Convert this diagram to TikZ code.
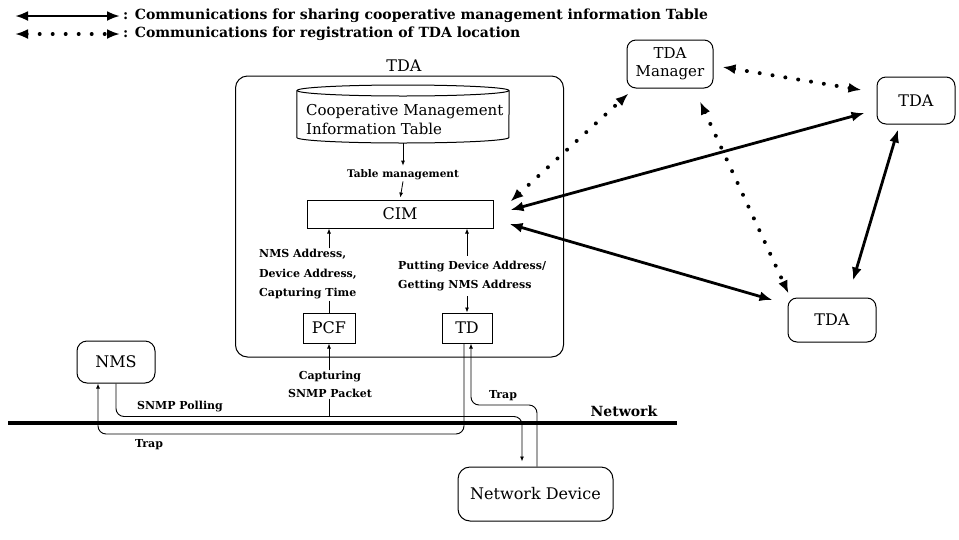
\documentclass[tikz,border=0pt]{standalone}
\usepackage{fontspec}
\setmainfont{DejaVu Serif}
\usetikzlibrary{arrows.meta,calc}
\begin{document}
\begin{tikzpicture}[x=1pt,y=-1pt,
  BigTip/.tip={Latex[length=13pt,width=10pt]},
  SmallTip/.tip={Latex[length=5pt,width=4pt]},
  nodefont/.style={font=\fontsize{16}{18}\selectfont},
  rbox/.style={draw, line width=1pt, rounded corners=9pt, nodefont, inner sep=0pt},
  sbox/.style={draw, line width=1pt, nodefont, inner sep=0pt},
  lbl/.style={font=\bfseries\fontsize{11}{19.5}\selectfont, align=left, inner sep=1pt},
  legtxt/.style={font=\bfseries\fontsize{14}{16}\selectfont, inner sep=0pt},
  comm/.style={line width=2.8pt, {BigTip}-{BigTip}},
  reg/.style={line width=4pt, line cap=round, dash pattern=on 0pt off 13pt, {BigTip}-{BigTip}},
  small/.style={line width=0.8pt, -{SmallTip}},
  wire/.style={line width=0.9pt, rounded corners=8pt},
]
\useasboundingbox (0,0) rectangle (959,539);

% legend
\coordinate (l1a) at (15,16); \coordinate (l1b) at (120,16);
\draw[comm] (l1a) -- (l1b);
\node[legtxt, anchor=west] (leg1) at (123,16) {: Communications for sharing cooperative management information Table};
\coordinate (l2a) at (15,34); \coordinate (l2b) at (120,34);
\draw[reg] (l2a) -- (l2b);
\node[legtxt, anchor=west] (leg2) at (123,34) {: Communications for registration of TDA location};

% big TDA
\node[rbox, rounded corners=12pt, minimum width=328pt, minimum height=281pt] (tdabox) at (399.5,216.5) {};
\node[nodefont] (tdalbl) at (404,66) {TDA};

% cylinder
\node[minimum width=212pt, minimum height=58pt, inner sep=0pt] (cyl) at (403,114) {};
\draw[line width=1pt] (403,90.5) ellipse [x radius=106, y radius=5.5];
\draw[line width=1pt] (cyl.west |- 0,90.5) -- (cyl.west |- 0,137.5) arc[start angle=180, end angle=0, x radius=106, y radius=5.5] -- (cyl.east |- 0,90.5);
\node[font=\fontsize{15}{19}\selectfont, align=left, anchor=west, inner sep=0pt] (cmit) at (306,120) {Cooperative Management\\Information Table};

\node[lbl, font=\bfseries\fontsize{10.5}{12}\selectfont] (tm) at (403,175) {Table management};
\node[sbox, minimum width=186pt, minimum height=28pt] (cim) at (400,214) {CIM};
\draw[small, shorten >=3pt] (cyl.south) -- (tm.north);
\draw[small, shorten >=2pt] (tm.south) -- (cim.north);

\node[sbox, minimum width=52pt, minimum height=30pt] (pcf) at (329,328) {PCF};
\node[sbox, minimum width=50pt, minimum height=30pt] (td) at (467,328) {TD};

\node[lbl, anchor=west] (lblA) at (258,274.5) {NMS Address,\\Device Address,\\Capturing Time};
\node[lbl, anchor=west] (lblB) at (397,276) {Putting Device Address/\\Getting NMS Address};
\draw[small] (lblA.north -| pcf) -- (cim.south -| pcf);
\draw[line width=0.8pt] (lblA.south -| pcf) -- (pcf.north);
\draw[small] ([yshift=4pt]lblB.north -| td) -- (cim.south -| td);
\draw[small] ([yshift=-4pt]lblB.south -| td) -- (td.north);

% right side
\node[rbox, minimum width=86pt, minimum height=48pt, align=center, font=\fontsize{15}{18}\selectfont] (mgr) at (670,64) {TDA\\Manager};
\node[rbox, minimum width=78pt, minimum height=47pt] (tdaR) at (916,100.5) {TDA};
\node[rbox, minimum width=88pt, minimum height=44pt] (tdaB) at (832,320) {TDA};

\draw[comm] ($(cim.east)+(17,-4)$) -- ($(tdaR.west)+(-12,12.5)$);
\draw[comm] ($(cim.east)+(16,10)$) -- ($(tdaB.west)+(-15,-20)$);
\draw[comm] ($(tdaR.south)+(-18,5)$) -- ($(tdaB.north)+(21,-17)$);
\draw[reg] ($(cim.north east)+(17,2)$) -- ($(mgr.south west)+(2,5)$);
\draw[reg] ($(mgr.east)+(9,3)$) -- ($(tdaR.west)+(-15,-10.5)$);
\draw[reg] ($(mgr.south)+(30,13)$) -- ($(tdaB.north west)+(1,-4)$);

% network
\coordinate (netL) at (8,423); \coordinate (netR) at (677,423);
\draw[line width=4.5pt] (netL) -- (netR);
\node[font=\bfseries\fontsize{14}{16}\selectfont, anchor=south, inner sep=1pt] (netlbl) at (624,418) {Network};

\node[rbox, rounded corners=10pt, minimum width=78pt, minimum height=42pt] (nms) at (116,362) {NMS};
\node[rbox, rounded corners=12pt, minimum width=155pt, minimum height=54pt] (nd) at (535.5,494) {Network Device};

\node[lbl, align=center, font=\bfseries\fontsize{11}{17.5}\selectfont] (cap) at (330,384.5) {Capturing\\SNMP Packet};
\draw[small] (cap.north -| pcf) -- (pcf.south);

\coordinate (pollL) at (116,416.5); \coordinate (pollR) at (522,416.5);
\draw[wire, -{SmallTip}] (nms.south) -- (pollL) -- (pollR) -- ([yshift=5pt]pollR |- nd.north);
\draw[line width=0.8pt] (cap.south -| pcf) -- (pcf |- pollL);

\coordinate (trA) at (464,434); \coordinate (trB) at (98,434);
\draw[wire, -{SmallTip}] ($(td.south)+(-3,0)$) -- (trA) -- (trB) -- (trB |- nms.south);

\coordinate (tdC) at (537,405); \coordinate (tdD) at (471,405);
\draw[wire, -{SmallTip}] ($(nd.north)+(1.5,0)$) -- (tdC) -- (tdD) -- (tdD |- td.south);

\node[lbl] (poll) at (180,407) {SNMP Polling};
\node[lbl] (trap1) at (149,445) {Trap};
\node[lbl] (trap2) at (503,396) {Trap};
\end{tikzpicture}
\end{document}
